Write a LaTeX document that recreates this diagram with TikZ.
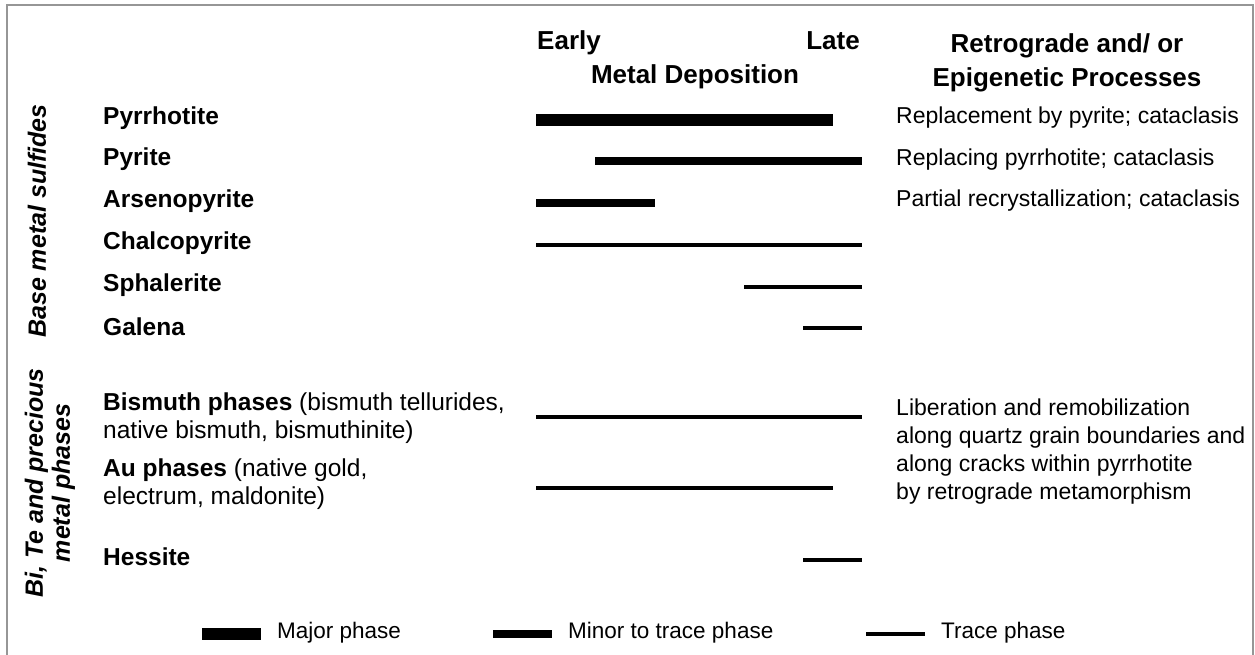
\documentclass[tikz,border=0pt]{standalone}
\usepackage{fontspec}
\setmainfont{Liberation Sans}
\usetikzlibrary{positioning}
\definecolor{framegray}{RGB}{150,150,150}
\tikzset{
  frame/.style={draw=framegray, line width=2pt},
  mineral/.style={anchor=west, inner sep=0pt, align=left,
    font=\fontsize{24.5}{28}\selectfont\bfseries},
  process/.style={anchor=west, inner sep=0pt, align=left,
    font=\fontsize{23}{28}\selectfont},
  heading/.style={inner sep=0pt, align=center,
    font=\fontsize{26}{34}\selectfont\bfseries},
  group/.style={rotate=90, inner sep=0pt, align=center,
    font=\fontsize{25}{27}\selectfont\bfseries\itshape},
  legendtext/.style={anchor=west, inner sep=0pt, font=\fontsize{22.5}{25}\selectfont},
  major/.style={line width=12pt},
  minor/.style={line width=7.5pt},
  trace/.style={line width=4.3pt}
}
\newcommand\legendbar[4]{\draw[#1] (#2,634) -- (#3,634); \node[legendtext] (#1key) at (#3+16,633) {#4};}

\begin{document}
\begin{tikzpicture}[x=1pt,y=-1pt]
\useasboundingbox (0,0) rectangle (1255,655);
\draw[frame] (7,655) -- (7,5) -- (1253,5) -- (1253,655);
% headings
\node[heading, anchor=base west] (early) at (537,50) {Early};
\node[heading, anchor=base east] (late) at (860,50) {Late};
\node[heading, anchor=base] (deposition) at (695,84) {Metal Deposition};
\node[heading] (retro) at (1067,63) {Retrograde and/ or\\Epigenetic Processes};
% groups
\node[group] (basemetal) at (37,221) {Base metal sulfides};
\node[group] (precious) at (50,483) {Bi, Te and precious\\metal phases};
% minerals
\foreach \n/\y/\t in {pyrrhotite/118/Pyrrhotite, pyrite/159/Pyrite, arsenopyrite/201/Arsenopyrite,
  chalcopyrite/243/Chalcopyrite, sphalerite/285/Sphalerite, galena/327/Galena, hessite/557/Hessite}
  \node[mineral] (\n) at (103,\y) {\t};
\node[mineral] (bismuth) at (103,418) {Bismuth phases \mdseries(bismuth tellurides,\\\mdseries native bismuth, bismuthinite)};
\node[mineral] (gold) at (103,484) {Au phases \mdseries(native gold,\\\mdseries electrum, maldonite)};
% phase bars
\foreach \w/\a/\b/\y in {major/536/833/120, minor/595/862/161, minor/536/655/203,
  trace/536/862/245, trace/744/862/287, trace/803/862/328,
  trace/536/862/417, trace/536/833/488, trace/803/862/560}
  \draw[\w] (\a,\y) -- (\b,\y);
% retrograde processes
\node[process] (pyrrhotiteproc) at (896,118) {Replacement by pyrite; cataclasis};
\node[process] (pyriteproc) at (896,160) {Replacing pyrrhotite; cataclasis};
\node[process] (arsenoproc) at (896,201) {Partial recrystallization; cataclasis};
\node[process] (liberation) at (896,452) {Liberation and remobilization\\along quartz grain boundaries and\\along cracks within pyrrhotite\\by retrograde metamorphism};
% legend
\legendbar{major}{202}{261}{Major phase}
\legendbar{minor}{493}{552}{Minor to trace phase}
\legendbar{trace}{866}{925}{Trace phase}
\end{tikzpicture}
\end{document}
